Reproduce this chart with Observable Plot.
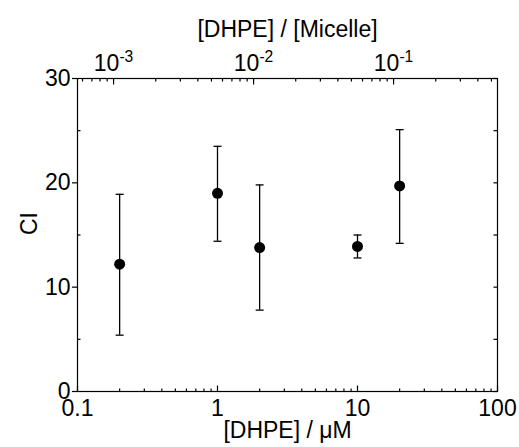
<!DOCTYPE html>
<html><head><meta charset="utf-8">
<script src="https://cdn.jsdelivr.net/npm/d3@7"></script>
<script src="https://cdn.jsdelivr.net/npm/@observablehq/plot@0.6"></script>
<style>
body{margin:0;background:#fff}
svg{font-family:"Liberation Sans",Arial,sans-serif}
</style>
</head><body><div id="chart"></div>
<script>
// Data
const conc = [0.2, 1, 2, 10, 20];            // [DHPE] / μM
const ci = [12.2, 19.0, 13.8, 13.9, 19.7];   // CI
const ciLow = [5.4, 14.4, 7.8, 12.8, 14.2];
const ciHigh = [18.9, 23.5, 19.8, 15.0, 25.1];

// Axis ticks
const xMajor = [0.1, 1, 10, 100];
const xMinor = [0.2,0.3,0.4,0.5,0.6,0.7,0.8,0.9, 2,3,4,5,6,7,8,9, 20,30,40,50,60,70,80,90];
const yMajor = [0, 10, 20, 30];
const yMinor = [5, 15, 25];
const yRight = [0, 5, 10, 15, 20, 25, 30];
const topMajor = [1e-3, 1e-2, 1e-1];          // [DHPE]/[Micelle]
const topExponents = ["-3", "-2", "-1"];
const topMinor = [6e-4,7e-4,8e-4,9e-4, 2e-3,3e-3,4e-3,5e-3,6e-3,7e-3,8e-3,9e-3, 2e-2,3e-2,4e-2,5e-2,6e-2,7e-2,8e-2,9e-2, 2e-1,3e-1,4e-1,5e-1];
const micelleConc = 181; // μM of micelles: ratio = conc / micelleConc

const data = conc.map((c, i) => ({c, ci: ci[i], lo: ciLow[i], hi: ciHigh[i]}));
const toConc = r => r * micelleConc;
const topLabel = new Map(topMajor.map((r, i) => [toConc(r), "10^" + topExponents[i]]));

// tick symbols (drawn from the anchor point, in pixels)
const cap = {draw(ctx) { ctx.moveTo(-4, 0); ctx.lineTo(4, 0); }};
const vUp = len => ({draw(ctx) { ctx.moveTo(0, 0); ctx.lineTo(0, -len); }});
const vDown = len => ({draw(ctx) { ctx.moveTo(0, 0); ctx.lineTo(0, len); }});
const hRight = len => ({draw(ctx) { ctx.moveTo(0, 0); ctx.lineTo(len, 0); }});
const hLeft = len => ({draw(ctx) { ctx.moveTo(0, 0); ctx.lineTo(-len, 0); }});
const tk = {stroke: "#000", strokeWidth: 1.2};

const plot = Plot.plot({
  width: 519, height: 447,
  marginLeft: 77, marginRight: 22, marginTop: 78, marginBottom: 56,
  style: {fontFamily: '"Liberation Sans", Arial, sans-serif', fontSize: "23px", color: "#000", background: "#fff"},
  x: {type: "log", domain: [0.1, 100]},
  y: {domain: [0, 30]},
  marks: [
    Plot.frame({stroke: "#000", strokeWidth: 1.2}),
    // bottom axis
    Plot.axisX(xMajor, {anchor: "bottom", tickSize: 0, tickPadding: 8, tickFormat: d => String(d), label: null}),
    Plot.dot(xMajor, {x: d => d, frameAnchor: "bottom", symbol: vUp(6), ...tk}),
    Plot.dot(xMinor, {x: d => d, frameAnchor: "bottom", symbol: vUp(3), ...tk}),
    // top axis
    Plot.axisX(topMajor.map(toConc), {anchor: "top", tickSize: 0, tickPadding: 8, tickFormat: d => topLabel.get(d), label: null}),
    Plot.dot(topMajor.map(toConc), {x: d => d, frameAnchor: "top", symbol: vDown(6), ...tk}),
    Plot.dot(topMinor.map(toConc), {x: d => d, frameAnchor: "top", symbol: vDown(3), ...tk}),
    // left axis
    Plot.axisY(yMajor, {anchor: "left", tickSize: 5, tickPadding: 2, label: null, strokeWidth: 1.2}),
    Plot.dot(yMinor, {y: d => d, frameAnchor: "left", symbol: hRight(3), ...tk}),
    // right axis
    Plot.dot(yRight, {y: d => d, frameAnchor: "right", symbol: hLeft(4), ...tk}),
    // titles
    Plot.text(["[DHPE] / [Micelle]"], {frameAnchor: "top", dy: -58, fontSize: 23}),
    Plot.text(["[DHPE] / μM"], {frameAnchor: "bottom", dy: 46, fontSize: 23}),
    Plot.text(["CI"], {frameAnchor: "left", dx: -48, rotate: -90, fontSize: 23}),
    // error bars
    Plot.ruleX(data, {x: "c", y1: "lo", y2: "hi", stroke: "#000", strokeWidth: 1.3}),
    Plot.dot(data, {x: "c", y: "lo", symbol: cap, stroke: "#000", strokeWidth: 1.3}),
    Plot.dot(data, {x: "c", y: "hi", symbol: cap, stroke: "#000", strokeWidth: 1.3}),
    Plot.dot(data, {x: "c", y: "ci", r: 5.5, fill: "#000", stroke: "none"})
  ]
});

// superscripts for the top axis labels
plot.querySelectorAll("text").forEach(t => {
  const s = t.textContent;
  if (s.includes("^")) {
    const [base, exp] = s.split("^");
    t.textContent = "";
    const ns = "http://www.w3.org/2000/svg";
    const a = document.createElementNS(ns, "tspan"); a.textContent = base;
    const b = document.createElementNS(ns, "tspan"); b.textContent = exp;
    b.setAttribute("dy", "-0.55em"); b.setAttribute("font-size", "0.68em");
    t.appendChild(a); t.appendChild(b);
  }
});
document.getElementById("chart").appendChild(plot);
</script>
</body></html>
